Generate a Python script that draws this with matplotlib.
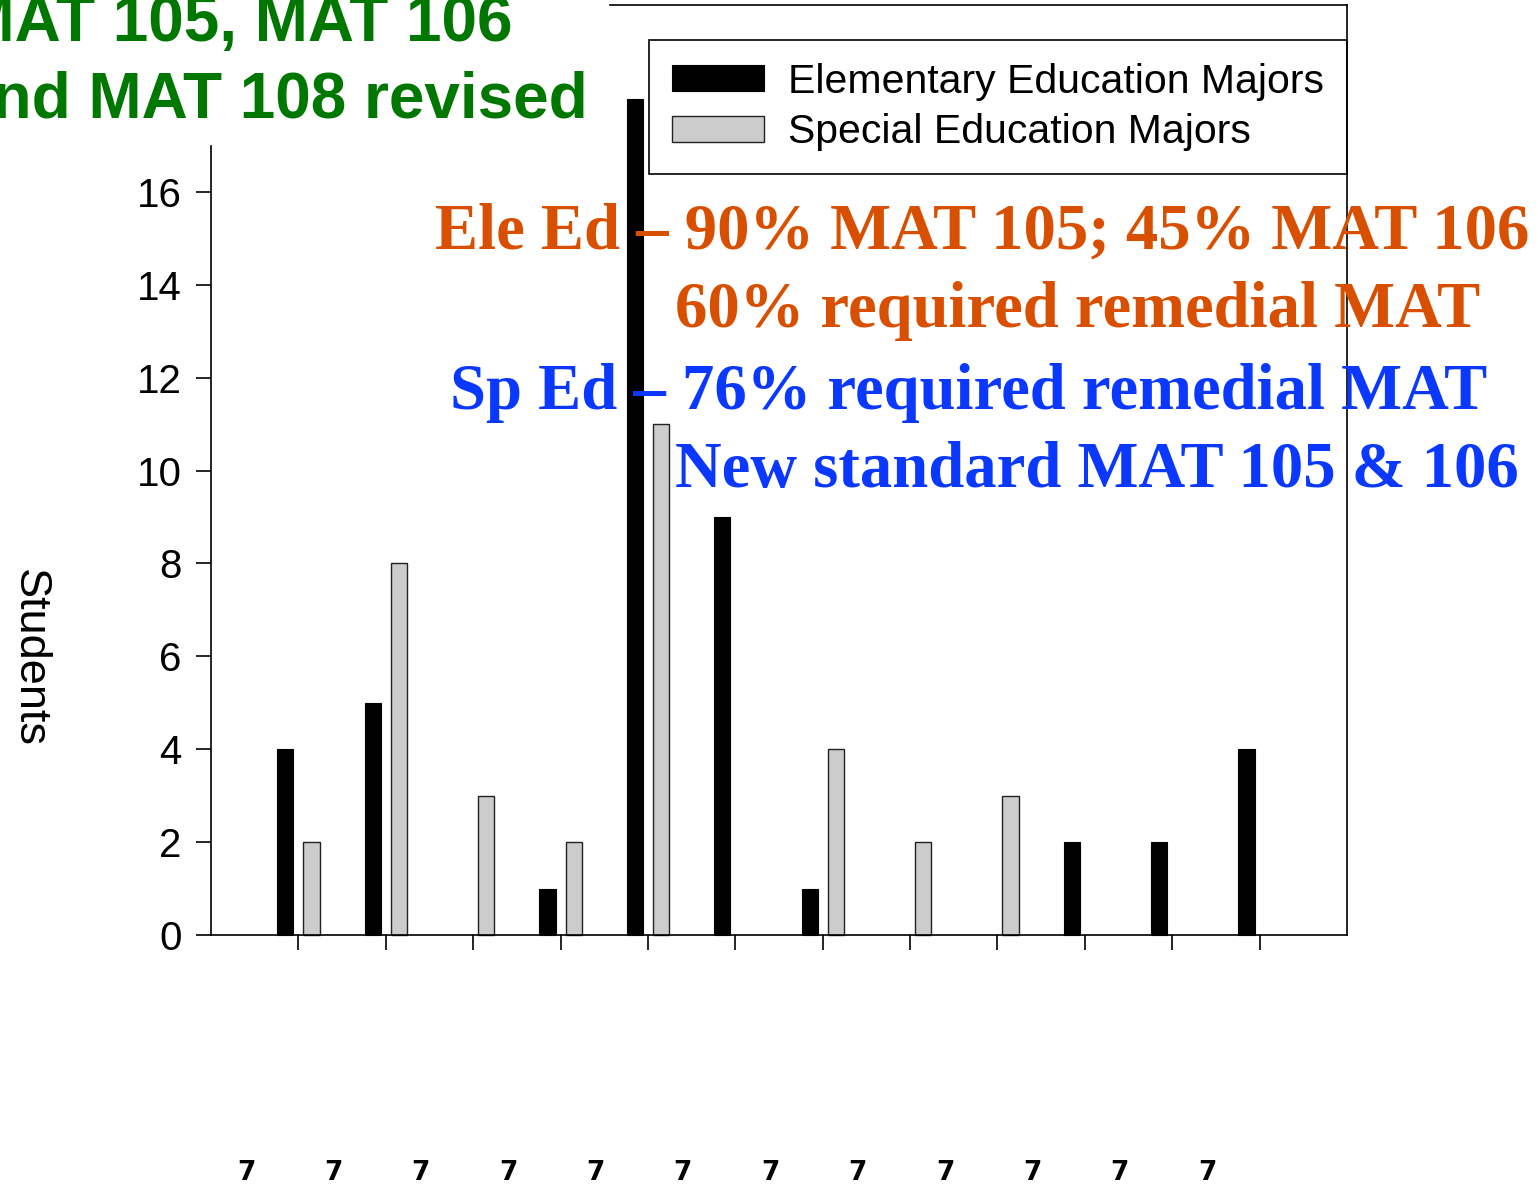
import matplotlib
matplotlib.use("Agg")
import matplotlib.pyplot as plt
import matplotlib.transforms as mtransforms
from matplotlib.lines import Line2D
import numpy as np

categories = ["7", "7", "7", "7", "7", "7", "7", "7", "7", "7", "7", "7"]
elementary = [4, 5, 0, 1, 18, 9, 1, 0, 0, 2, 2, 4]
special = [2, 8, 3, 2, 11, 0, 4, 2, 3, 0, 0, 0]
series_names = ["Elementary Education Majors", "Special Education Majors"]
yticks = [0, 2, 4, 6, 8, 10, 12, 14, 16]

W, H = 1538, 1187
fig = plt.figure(figsize=(W / 100, H / 100), dpi=100)
ax = fig.add_axes([211 / W, 1 - 935 / H, (1347 - 211) / W, (935 - 145.5) / H])

sans = "Liberation Sans"
serif = "Liberation Serif"

x = np.arange(1, len(categories) + 1)
bw = 0.185
b1 = ax.bar(x - 0.15, elementary, bw, color="black", edgecolor="black", linewidth=0.8,
            label=series_names[0], clip_on=False, zorder=2)
b2 = ax.bar(x + 0.15, special, bw, color="#cccccc", edgecolor="#222222", linewidth=1.0,
            label=series_names[1], clip_on=False, zorder=2)
for bars, vals in ((b1, elementary), (b2, special)):
    for p, v in zip(bars, vals):
        if v == 0:
            p.set_visible(False)

ax.set_xlim(0, 13)
ax.set_ylim(0, 17)
ax.set_yticks(yticks)
ax.set_yticklabels([str(v) for v in yticks], fontsize=29, family=sans)
ax.set_xticks(x)
ax.set_xticklabels([])
ax.tick_params(axis="both", direction="out", length=11, width=1.2, color="black")
ax.tick_params(axis="y", pad=10)
for s in ["top", "right"]:
    ax.spines[s].set_visible(False)
for s in ["left", "bottom"]:
    ax.spines[s].set_linewidth(1.2)

# category labels at the bottom edge
tr = mtransforms.blended_transform_factory(ax.transData, fig.transFigure)
for xi, lab in zip(x, categories):
    ax.text(xi - 0.6, 1 - 1186 / H, lab, transform=tr, ha="center", va="bottom",
            fontsize=19, fontweight="bold", family="DejaVu Sans", clip_on=False)

ax.set_ylabel("Students", fontsize=32.5, family=sans, rotation=270, va="center")
ax.yaxis.set_label_coords(29 / W, 1 - 658 / H, transform=fig.transFigure)

# outer frame lines (right and top)
fig.add_artist(Line2D([1347 / W, 1347 / W], [1 - 935 / H, 1 - 5 / H], color="black", lw=1.2,
                      transform=fig.transFigure))
fig.add_artist(Line2D([610 / W, 1347 / W], [1 - 5 / H, 1 - 5 / H], color="black", lw=1.2,
                      transform=fig.transFigure))

leg = ax.legend(loc="center right", bbox_to_anchor=(1347 / W, 1 - 107 / H), bbox_transform=fig.transFigure,
                borderaxespad=0, fancybox=False, frameon=True, edgecolor="black", framealpha=1,
                prop={"family": sans, "size": 29.5}, handlelength=2.25, handleheight=0.6,
                handletextpad=0.6, labelspacing=0.3, borderpad=0.55)
leg.get_frame().set_linewidth(1.2)

# green title (cut off at left)
green = "#007700"
fig.text(513 / W, 1 - 41 / H, "and MAT 105, MAT 106", color=green, fontsize=46, fontweight="bold",
         family=sans, ha="right", va="baseline")
fig.text(588 / W, 1 - 118 / H, "and MAT 108 revised", color=green, fontsize=46, fontweight="bold",
         family=sans, ha="right", va="baseline")

orange = "#d84f00"
blue = "#0a38ff"
fs = 46.5
fig.text(435 / W, 1 - 249 / H, "Ele Ed \u2013 90% MAT 105; 45% MAT 106", color=orange, fontsize=fs,
         fontweight="bold", family=serif, ha="left", va="baseline")
fig.text(675 / W, 1 - 327 / H, "60% required remedial MAT", color=orange, fontsize=fs,
         fontweight="bold", family=serif, ha="left", va="baseline")
fig.text(450 / W, 1 - 409 / H, "Sp Ed \u2013 76% required remedial MAT", color=blue, fontsize=fs,
         fontweight="bold", family=serif, ha="left", va="baseline")
fig.text(675 / W, 1 - 487 / H, "New standard MAT 105 & 106", color=blue, fontsize=fs,
         fontweight="bold", family=serif, ha="left", va="baseline")

fig.savefig("out.png", dpi=100)
